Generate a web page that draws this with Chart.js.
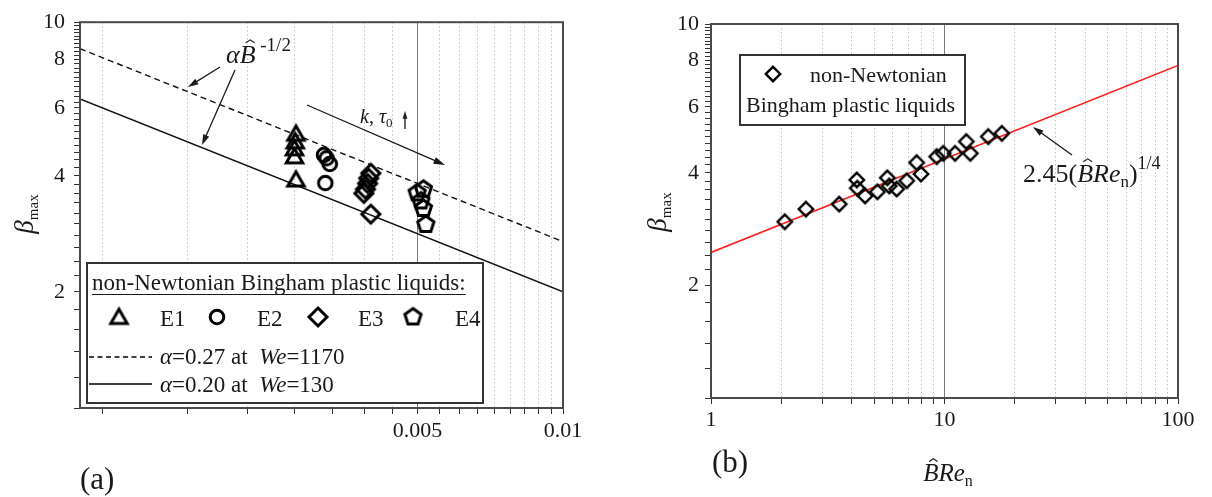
<!DOCTYPE html>
<html>
<head>
<meta charset="utf-8">
<script src="https://cdn.jsdelivr.net/npm/chart.js@4.4.1/dist/chart.umd.min.js"></script>
<style>
  html, body { margin: 0; padding: 0; background: #fff; }
  #wrap { position: relative; width: 1212px; height: 497px; overflow: hidden; }
  #chart-a { position: absolute; left: 0; top: 0; }
  #chart-b { position: absolute; left: 600px; top: 0; }
</style>
</head>
<body>
<div id="wrap">
  <canvas id="chart-a" width="600" height="497"></canvas>
  <canvas id="chart-b" width="612" height="497"></canvas>
</div>
<script>
const SERIF = '"Liberation Serif", "DejaVu Serif", serif';
const INK = '#1a1a1a';

/* ── (a) beta_max vs B-hat, four Bingham liquids ── */
const e1X = [0.00280, 0.00279, 0.00278, 0.00278, 0.00280];
const e1Y = [5.14, 4.91, 4.71, 4.49, 3.91];
const e2X = [0.00320, 0.00324, 0.00329, 0.00322];
const e2Y = [4.53, 4.44, 4.29, 3.83];
const e3X = [0.00400, 0.00396, 0.00394, 0.00390, 0.00387, 0.00400];
const e3Y = [4.06, 3.94, 3.82, 3.69, 3.60, 3.18];
const e4X = [0.00499, 0.00514, 0.00508, 0.00514, 0.00520];
const e4Y = [3.61, 3.69, 3.44, 3.29, 2.99];
const alphaDashed = 0.27;   // We = 1170
const alphaSolid = 0.20;    // We = 130
const aRangeX = [0.001, 0.01];
const aRangeY = [1, 10];
const aLabelsX = [0.005, 0.01];
const aLabelsY = [2, 4, 6, 8, 10];

/* ── (b) collapsed data against B-hat * Re_n ── */
const bX = [2.07, 2.55, 3.54, 4.21, 4.23, 4.57, 5.16, 5.69, 5.80, 6.24, 6.89, 7.60, 7.93, 9.26, 9.88, 11.1, 12.4, 12.9, 15.4, 17.6];
const bY = [2.96, 3.20, 3.30, 3.83, 3.64, 3.47, 3.56, 3.88, 3.69, 3.62, 3.81, 4.26, 3.97, 4.42, 4.51, 4.51, 4.85, 4.51, 5.00, 5.10];
const fitCoef = 2.45;
const fitExp = 0.25;
const bRangeX = [1, 100];
const bRangeY = [1, 10];
const bLabelsX = [1, 10, 100];
const bLabelsY = [2, 4, 6, 8, 10];

function pts(xs, ys) { return xs.map((x, i) => ({ x, y: ys[i] })); }
function powerLine(c, p, xs) { return xs.map(x => ({ x, y: c * Math.pow(x, p) })); }
function near(a, b) { return Math.abs(a - b) <= 1e-9 * Math.max(1, Math.abs(b)); }

// evenly spaced in value (Origin-style minor ticks on a log axis)
function stepTicks(from, to, step) {
  const out = [];
  for (let k = Math.round(from / step); k * step <= to * (1 + 1e-9); k++) out.push(k * step);
  return out;
}
function decadeTicks(from, to) {
  const out = [];
  for (let d = from; d < to; d *= 10) for (let m = 1; m < 10; m++) out.push(m * d);
  out.push(to);
  return out;
}

/* ── marker sprites, shared by the data and the legends ── */
function markerImage(kind, r, lw) {
  const c = document.createElement('canvas');
  const s = Math.ceil(2 * r + 2 * lw + 2);
  c.width = c.height = s;
  const g = c.getContext('2d');
  const cx = s / 2, cy = s / 2 + (kind === 'triangle' ? r * 0.18 : 0);
  g.beginPath();
  if (kind === 'circle') g.arc(cx, cy, r, 0, 2 * Math.PI);
  else {
    const n = { triangle: 3, diamond: 4, pentagon: 5 }[kind];
    for (let i = 0; i < n; i++) {
      const t = -Math.PI / 2 + i * 2 * Math.PI / n;
      const px = cx + r * Math.cos(t), py = cy + r * Math.sin(t);
      i ? g.lineTo(px, py) : g.moveTo(px, py);
    }
    g.closePath();
  }
  g.lineJoin = 'miter';
  g.lineWidth = lw; g.strokeStyle = '#000'; g.stroke();
  return c;
}
const mTri = markerImage('triangle', 9.5, 3);
const mCirc = markerImage('circle', 6.8, 3);
const mDia = markerImage('diamond', 9, 3);
const mPent = markerImage('pentagon', 8.5, 3);
const mDiaB = markerImage('diamond', 7.2, 2.4);

/* ── text helpers ── */
function fontOf(p) { return (p.it ? 'italic ' : '') + p.s + 'px ' + SERIF; }
function hat(ctx, cx, top, s) {
  const w = s * 0.17, h = s * 0.11;
  ctx.beginPath();
  ctx.moveTo(cx - w, top); ctx.lineTo(cx, top - h); ctx.lineTo(cx + w, top);
  ctx.lineWidth = 1.1; ctx.strokeStyle = INK; ctx.stroke();
}
// pieces drawn left to right on one baseline: {t, s, it, dy, hat}
function runs(ctx, x, y, parts, align) {
  const widths = parts.map(p => { ctx.font = fontOf(p); return ctx.measureText(p.t).width; });
  const total = widths.reduce((a, b) => a + b, 0);
  let cx = align === 'center' ? x - total / 2 : x;
  ctx.textBaseline = 'alphabetic'; ctx.textAlign = 'left'; ctx.fillStyle = INK;
  parts.forEach((p, i) => {
    ctx.font = fontOf(p);
    ctx.fillText(p.t, cx, y + (p.dy || 0));
    if (p.hat) hat(ctx, cx + widths[i] / 2 + p.s * 0.1, y - p.s * 0.78, p.s);
    cx += widths[i];
  });
  return total;
}
function arrow(ctx, x1, y1, x2, y2, head) {
  const a = Math.atan2(y2 - y1, x2 - x1);
  ctx.strokeStyle = INK; ctx.fillStyle = INK; ctx.lineWidth = 1.3; ctx.setLineDash([]);
  ctx.beginPath(); ctx.moveTo(x1, y1);
  ctx.lineTo(x2 - Math.cos(a) * head * 0.7, y2 - Math.sin(a) * head * 0.7); ctx.stroke();
  ctx.beginPath(); ctx.moveTo(x2, y2);
  ctx.lineTo(x2 - head * Math.cos(a - 0.3), y2 - head * Math.sin(a - 0.3));
  ctx.lineTo(x2 - head * Math.cos(a + 0.3), y2 - head * Math.sin(a + 0.3));
  ctx.closePath(); ctx.fill();
}
function frame(ctx, a) {
  ctx.setLineDash([]); ctx.lineWidth = 2; ctx.strokeStyle = '#4a4a4a';
  ctx.strokeRect(a.left, a.top, a.right - a.left, a.bottom - a.top);
}
function yTitle(ctx, x, y) {
  ctx.save(); ctx.translate(x, y); ctx.rotate(-Math.PI / 2);
  runs(ctx, 0, 0, [{ t: 'β', s: 27, it: true }, { t: 'max', s: 15, dy: 5 }], 'center');
  ctx.restore();
}

/* ── shared log axis ── */
function logAxis(o) {
  return {
    type: 'logarithmic', min: o.range[0], max: o.range[1],
    afterFit: s => { if (s.isHorizontal()) s.height = o.size; else s.width = o.size; },
    afterBuildTicks: s => { s.ticks = o.ticks.map(v => ({ value: v })); },
    ticks: {
      autoSkip: false, maxRotation: 0, minRotation: 0, padding: o.pad, color: INK,
      font: { family: SERIF, size: 22 },
      callback: v => { const hit = o.labels.find(l => near(l, v)); return hit === undefined ? '' : String(hit); }
    },
    grid: {
      drawOnChartArea: !!o.grid, drawTicks: true, tickLength: 6, tickColor: '#333', tickWidth: 1,
      lineWidth: 1,
      color: c => (o.major && near(c.tick.value, o.major)) ? '#7a7a7a' : '#c4c4c4'
    },
    border: { display: false, dash: c => (o.major && c.tick && near(c.tick.value, o.major)) ? [] : [1.5, 2.5] }
  };
}

/* ── panel (a) ── */
const decorA = {
  id: 'decorA',
  afterDraw(chart) {
    const { ctx, chartArea: a } = chart;
    ctx.save();
    frame(ctx, a);
    yTitle(ctx, 33, 214);

    ctx.font = '31px ' + SERIF; ctx.fillStyle = INK; ctx.textBaseline = 'middle';
    ctx.fillText('(a)', 80, 481);

    // model-line callout
    runs(ctx, 226, 63, [{ t: 'α', s: 26, it: true }, { t: 'B', s: 26, it: true, hat: true }, { t: ' -1/2', s: 19, dy: -12 }]);
    arrow(ctx, 220, 67, 188, 87, 11);
    arrow(ctx, 235, 70, 202, 145, 11);

    // trend of k and tau_0
    arrow(ctx, 307, 105, 445, 165, 12);
    runs(ctx, 360, 123, [{ t: 'k', s: 20, it: true }, { t: ', ', s: 20 }, { t: 'τ', s: 20, it: true }, { t: '0', s: 13, dy: 4 }]);
    arrow(ctx, 405, 129, 405, 111, 8);

    // legend
    const L = { x: 87, y: 263, w: 396, h: 140 };
    ctx.fillStyle = '#fff'; ctx.fillRect(L.x, L.y, L.w, L.h);
    ctx.lineWidth = 2; ctx.strokeStyle = '#333'; ctx.strokeRect(L.x, L.y, L.w, L.h);
    const tw = runs(ctx, 92, 290, [{ t: 'non-Newtonian Bingham plastic liquids:', s: 23 }]);
    ctx.beginPath(); ctx.moveTo(92, 294.5); ctx.lineTo(92 + tw, 294.5);
    ctx.lineWidth = 1; ctx.strokeStyle = INK; ctx.stroke();
    [[mTri, 119, 'E1', 160], [mCirc, 217, 'E2', 257], [mDia, 318, 'E3', 358], [mPent, 413, 'E4', 455]].forEach(([img, mx, lbl, tx]) => {
      ctx.drawImage(img, mx - img.width / 2, 317 - img.height / 2);
      runs(ctx, tx, 326, [{ t: lbl, s: 23 }]);
    });
    ctx.strokeStyle = '#000'; ctx.lineWidth = 1.3;
    ctx.setLineDash([5, 3.5]);
    ctx.beginPath(); ctx.moveTo(89, 357); ctx.lineTo(152, 357); ctx.stroke();
    ctx.setLineDash([]);
    ctx.beginPath(); ctx.moveTo(89, 384); ctx.lineTo(152, 384); ctx.stroke();
    runs(ctx, 160, 364, [{ t: 'α', s: 23, it: true }, { t: '=' + alphaDashed.toFixed(2) + ' at  ', s: 23 }, { t: 'We', s: 23, it: true }, { t: '=1170', s: 23 }]);
    runs(ctx, 160, 392, [{ t: 'α', s: 23, it: true }, { t: '=' + alphaSolid.toFixed(2) + ' at  ', s: 23 }, { t: 'We', s: 23, it: true }, { t: '=130', s: 23 }]);
    ctx.restore();
  }
};

function pointSet(label, xs, ys, img) {
  return { label, data: pts(xs, ys), pointStyle: img, pointRadius: 8, showLine: false, order: 1 };
}

new Chart(document.getElementById('chart-a'), {
  type: 'scatter',
  data: {
    datasets: [
      pointSet('E1', e1X, e1Y, mTri),
      pointSet('E2', e2X, e2Y, mCirc),
      pointSet('E3', e3X, e3Y, mDia),
      pointSet('E4', e4X, e4Y, mPent),
      { type: 'line', label: 'alpha 0.27', data: powerLine(alphaDashed, -0.5, aRangeX), borderColor: '#111', borderWidth: 1.4, borderDash: [6, 4], pointRadius: 0, order: 2 },
      { type: 'line', label: 'alpha 0.20', data: powerLine(alphaSolid, -0.5, aRangeX), borderColor: '#111', borderWidth: 1.4, pointRadius: 0, order: 2 }
    ]
  },
  options: {
    responsive: false, animation: false, devicePixelRatio: 1,
    layout: { padding: { top: 20, right: 37, left: 0, bottom: 0 } },
    plugins: { legend: { display: false }, tooltip: { enabled: false } },
    scales: {
      x: logAxis({ range: aRangeX, ticks: stepTicks(aRangeX[0], aRangeX[1], 0.005 / 9), labels: aLabelsX, major: 0.005, grid: true, size: 89, pad: 4 }),
      y: logAxis({ range: aRangeY, ticks: stepTicks(aRangeY[0], aRangeY[1], 0.2), labels: aLabelsY, grid: false, size: 80, pad: 9 })
    }
  },
  plugins: [decorA]
});

/* ── panel (b) ── */
const decorB = {
  id: 'decorB',
  afterDraw(chart) {
    const { ctx, chartArea: a } = chart;
    ctx.save();
    frame(ctx, a);
    yTitle(ctx, 66, 212);

    ctx.font = '31px ' + SERIF; ctx.fillStyle = INK; ctx.textBaseline = 'middle';
    ctx.fillText('(b)', 112, 464);
    runs(ctx, 348, 481, [{ t: 'B', s: 25, it: true, hat: true }, { t: 'Re', s: 25, it: true }, { t: 'n', s: 16, dy: 5 }], 'center');

    // fit callout
    runs(ctx, 423, 182, [{ t: fitCoef.toFixed(2) + '(', s: 26 }, { t: 'B', s: 26, it: true, hat: true }, { t: 'Re', s: 26, it: true }, { t: 'n', s: 17, dy: 5 }, { t: ')', s: 26 }, { t: '1/4', s: 18, dy: -13 }]);
    arrow(ctx, 472, 155, 433, 127, 11);

    // legend
    const L = { x: 140, y: 55, w: 225, h: 70 };
    ctx.fillStyle = '#fff'; ctx.fillRect(L.x, L.y, L.w, L.h);
    ctx.lineWidth = 2; ctx.strokeStyle = '#333'; ctx.strokeRect(L.x, L.y, L.w, L.h);
    ctx.drawImage(mDiaB, 173 - mDiaB.width / 2, 74 - mDiaB.height / 2);
    runs(ctx, 210, 82, [{ t: 'non-Newtonian', s: 22 }]);
    runs(ctx, 146, 112, [{ t: 'Bingham plastic liquids', s: 22 }]);
    ctx.restore();
  }
};

new Chart(document.getElementById('chart-b'), {
  type: 'scatter',
  data: {
    datasets: [
      { label: 'non-Newtonian Bingham plastic liquids', data: pts(bX, bY), pointStyle: mDiaB, pointRadius: 7, showLine: false, order: 1 },
      { type: 'line', label: 'fit', data: powerLine(fitCoef, fitExp, bRangeX), borderColor: '#ff2020', borderWidth: 1.6, pointRadius: 0, order: 2 }
    ]
  },
  options: {
    responsive: false, animation: false, devicePixelRatio: 1,
    layout: { padding: { top: 24, right: 34, left: 0, bottom: 0 } },
    plugins: { legend: { display: false }, tooltip: { enabled: false } },
    scales: {
      x: logAxis({ range: bRangeX, ticks: decadeTicks(bRangeX[0], bRangeX[1]), labels: bLabelsX, major: 10, grid: true, size: 99, pad: 3 }),
      y: logAxis({ range: bRangeY, ticks: stepTicks(bRangeY[0], bRangeY[1], 0.2), labels: bLabelsY, grid: false, size: 111, pad: 6 })
    }
  },
  plugins: [decorB]
});
</script>
</body>
</html>
